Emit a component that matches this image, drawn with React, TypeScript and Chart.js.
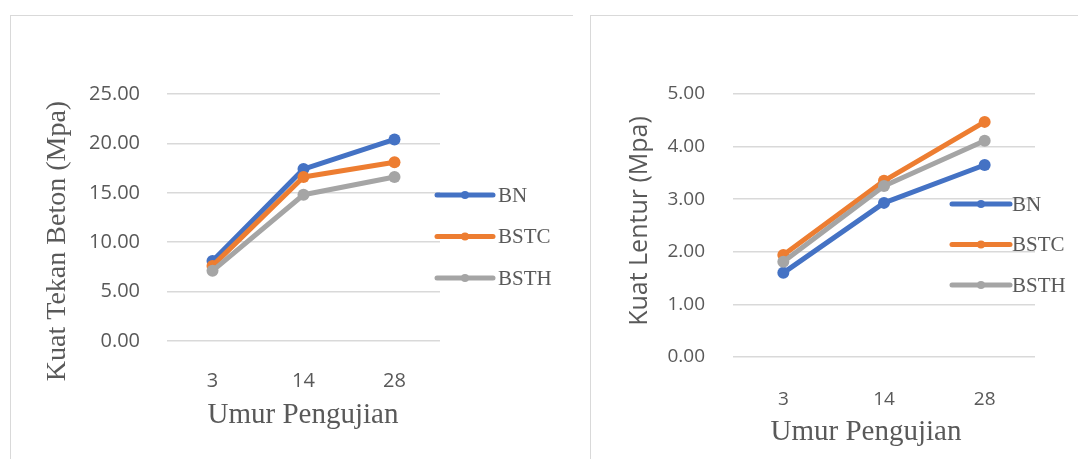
import React, { useEffect, useRef } from 'react';
import { Chart, registerables } from 'chart.js';

Chart.register(...registerables);

// ---- data ----
const ages = ['3', '14', '28'];
const seriesNames = ['BN', 'BSTC', 'BSTH'];
const seriesColors = ['#4472C4', '#ED7D31', '#A5A5A5'];

const tekanBN = [8.1, 17.4, 20.4];
const tekanBSTC = [7.6, 16.6, 18.1];
const tekanBSTH = [7.1, 14.8, 16.6];

const lenturBN = [1.6, 2.93, 3.65];
const lenturBSTC = [1.94, 3.35, 4.47];
const lenturBSTH = [1.81, 3.25, 4.11];

const tekanAxis = { max: 25, step: 5 };
const lenturAxis = { max: 5, step: 1 };

const xTitle = 'Umur Pengujian';
const tekanTitle = 'Kuat Tekan Beton (Mpa)';
const lenturTitle = 'Kuat Lentur (Mpa)';

const TEXT = '#595959';
const GRID = '#d9d9d9';

type Decor = {
  yTitle: { text: string; x: number; y: number; font: string };
  xTitle: { text: string; x: number; y: number; font: string };
  legend: { x1: number; x2: number; textX: number; y0: number; gap: number; font: string };
};

function makeDecor(d: Decor) {
  return {
    id: 'decor',
    afterDraw(chart: any) {
      const ctx = chart.ctx as CanvasRenderingContext2D;
      ctx.save();
      ctx.fillStyle = TEXT;
      // y title
      ctx.save();
      ctx.translate(d.yTitle.x, d.yTitle.y);
      ctx.rotate(-Math.PI / 2);
      ctx.font = d.yTitle.font;
      ctx.textAlign = 'center';
      ctx.textBaseline = 'middle';
      ctx.fillText(d.yTitle.text, 0, 0);
      ctx.restore();
      // x title
      ctx.font = d.xTitle.font;
      ctx.textAlign = 'center';
      ctx.textBaseline = 'middle';
      ctx.fillText(d.xTitle.text, d.xTitle.x, d.xTitle.y);
      // legend
      chart.data.datasets.forEach((ds: any, i: number) => {
        const y = d.legend.y0 + i * d.legend.gap;
        ctx.strokeStyle = ds.borderColor;
        ctx.lineWidth = 5;
        ctx.lineCap = 'round';
        ctx.beginPath();
        ctx.moveTo(d.legend.x1, y);
        ctx.lineTo(d.legend.x2, y);
        ctx.stroke();
        ctx.fillStyle = ds.borderColor;
        ctx.beginPath();
        ctx.arc((d.legend.x1 + d.legend.x2) / 2, y, 4, 0, Math.PI * 2);
        ctx.fill();
        ctx.fillStyle = TEXT;
        ctx.font = d.legend.font;
        ctx.textAlign = 'left';
        ctx.textBaseline = 'middle';
        ctx.fillText(ds.label, d.legend.textX, y + 1);
      });
      ctx.restore();
    },
  };
}

type Props = {
  left: number;
  width: number;
  height: number;
  series: number[][];
  yMax: number;
  yStep: number;
  area: { left: number; right: number; top: number; bottom: number };
  tickSize: number;
  yTickPad: number;
  xTickPad: number;
  decor: Decor;
};

function LineChart(p: Props) {
  const ref = useRef<HTMLCanvasElement>(null);
  useEffect(() => {
    const font = { family: '"Open Sans", sans-serif', size: p.tickSize };
    const chart = new Chart(ref.current as HTMLCanvasElement, {
      type: 'line',
      data: {
        labels: ages,
        datasets: seriesNames.map((name, i) => ({
          label: name,
          data: p.series[i],
          borderColor: seriesColors[i],
          backgroundColor: seriesColors[i],
          pointBackgroundColor: seriesColors[i],
          pointBorderColor: seriesColors[i],
          borderWidth: 5,
          pointRadius: 6,
          pointBorderWidth: 0,
          tension: 0,
          borderJoinStyle: 'round' as const,
          borderCapStyle: 'round' as const,
          order: 2 - i,
        })),
      },
      options: {
        animation: false,
        responsive: false,
        maintainAspectRatio: false,
        layout: {
          padding: { left: 0, top: p.area.top, right: p.width - p.area.right, bottom: 0 },
        },
        plugins: { legend: { display: false }, tooltip: { enabled: false } },
        scales: {
          x: {
            type: 'category',
            offset: true,
            grid: { display: false },
            border: { display: false },
            ticks: { font, color: TEXT, padding: p.xTickPad },
            afterFit: (s: any) => {
              s.height = p.height - p.area.bottom;
            },
          },
          y: {
            min: 0,
            max: p.yMax,
            ticks: {
              stepSize: p.yStep,
              font,
              color: TEXT,
              padding: p.yTickPad,
              callback: (v: any) => Number(v).toFixed(2),
            },
            grid: { color: GRID, lineWidth: 1.5, drawTicks: false },
            border: { display: false },
            afterFit: (s: any) => {
              s.width = p.area.left;
            },
          },
        },
      },
      plugins: [makeDecor(p.decor)],
    } as any);
    return () => chart.destroy();
  }, []);
  return (
    <canvas
      ref={ref}
      width={p.width}
      height={p.height}
      style={{ position: 'absolute', left: p.left, top: 0, width: p.width, height: p.height }}
    />
  );
}

export default function App() {
  return (
    <div
      style={{
        position: 'absolute',
        left: 0,
        top: 0,
        width: 1078,
        height: 459,
        overflow: 'hidden',
        background: '#fff',
      }}
    >
      <div
        style={{
          position: 'absolute',
          left: 10,
          top: 15,
          width: 562,
          height: 500,
          borderTop: `1.5px solid ${GRID}`,
          borderLeft: `1.5px solid ${GRID}`,
        }}
      />
      <div
        style={{
          position: 'absolute',
          left: 590,
          top: 15,
          width: 520,
          height: 500,
          borderTop: `1.5px solid ${GRID}`,
          borderLeft: `1.5px solid ${GRID}`,
        }}
      />
      <LineChart
        left={0}
        width={580}
        height={459}
        series={[tekanBN, tekanBSTC, tekanBSTH]}
        yMax={tekanAxis.max}
        yStep={tekanAxis.step}
        area={{ left: 167, right: 440, top: 94, bottom: 341 }}
        tickSize={20}
        yTickPad={27}
        xTickPad={20}
        decor={{
          yTitle: { text: tekanTitle, x: 58, y: 241, font: '28px "Liberation Serif", serif' },
          xTitle: { text: xTitle, x: 303, y: 415, font: '29px "Liberation Serif", serif' },
          legend: { x1: 437, x2: 493, textX: 498, y0: 195, gap: 41.5, font: '21px "Liberation Serif", serif' },
        }}
      />
      <LineChart
        left={580}
        width={498}
        height={459}
        series={[lenturBN, lenturBSTC, lenturBSTH]}
        yMax={lenturAxis.max}
        yStep={lenturAxis.step}
        area={{ left: 153, right: 455, top: 94, bottom: 357 }}
        tickSize={19}
        yTickPad={28}
        xTickPad={23}
        decor={{
          yTitle: { text: lenturTitle, x: 60, y: 221, font: '25px "Open Sans", sans-serif' },
          xTitle: { text: xTitle, x: 286, y: 432, font: '29px "Liberation Serif", serif' },
          legend: { x1: 372, x2: 430, textX: 432, y0: 204, gap: 40.5, font: '21px "Liberation Serif", serif' },
        }}
      />
    </div>
  );
}
